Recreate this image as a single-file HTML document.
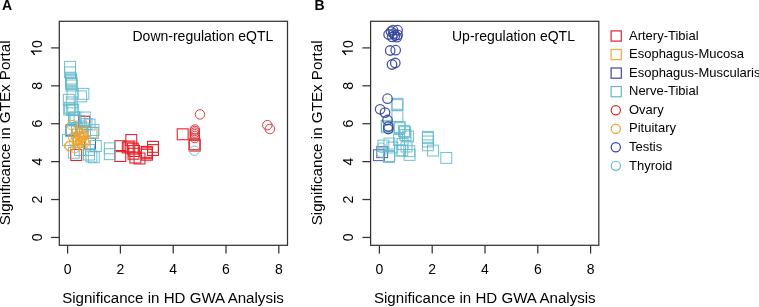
<!DOCTYPE html>
<html><head><meta charset="utf-8"><style>
html,body{margin:0;padding:0;background:#fff;width:759px;height:307px;overflow:hidden}
svg{display:block;filter:blur(0.25px)}
text{font-family:"Liberation Sans", sans-serif;fill:#000}
</style></head><body>
<svg width="759" height="307" viewBox="0 0 759 307">
<rect x="59.3" y="21.3" width="228.20" height="224.00" fill="none" stroke="#333333" stroke-width="1.25"/>
<line x1="51.10" y1="237.45" x2="59.30" y2="237.45" stroke="#333333" stroke-width="1.25"/>
<text x="0" y="0" transform="translate(41.70,237.45) rotate(-90) scale(1,1.09)" text-anchor="middle" font-size="14">0</text>
<line x1="51.10" y1="199.54" x2="59.30" y2="199.54" stroke="#333333" stroke-width="1.25"/>
<text x="0" y="0" transform="translate(41.70,199.54) rotate(-90) scale(1,1.09)" text-anchor="middle" font-size="14">2</text>
<line x1="51.10" y1="161.63" x2="59.30" y2="161.63" stroke="#333333" stroke-width="1.25"/>
<text x="0" y="0" transform="translate(41.70,161.63) rotate(-90) scale(1,1.09)" text-anchor="middle" font-size="14">4</text>
<line x1="51.10" y1="123.72" x2="59.30" y2="123.72" stroke="#333333" stroke-width="1.25"/>
<text x="0" y="0" transform="translate(41.70,123.72) rotate(-90) scale(1,1.09)" text-anchor="middle" font-size="14">6</text>
<line x1="51.10" y1="85.81" x2="59.30" y2="85.81" stroke="#333333" stroke-width="1.25"/>
<text x="0" y="0" transform="translate(41.70,85.81) rotate(-90) scale(1,1.09)" text-anchor="middle" font-size="14">8</text>
<line x1="51.10" y1="47.90" x2="59.30" y2="47.90" stroke="#333333" stroke-width="1.25"/>
<g transform="translate(41.70,47.90) rotate(-90) scale(1,1.09)"><path transform="translate(-8.5,0)" d="M4.55,0 L5.85,0 L5.85,-10.0 L4.95,-10.0 Q3.9,-8.2 1.3,-7.2 L1.3,-5.95 Q3.2,-6.6 4.55,-7.75 Z" fill="#000"/><text x="0" y="0" font-size="14">0</text></g>
<line x1="67.60" y1="245.3" x2="67.60" y2="253.6" stroke="#333333" stroke-width="1.25"/>
<text x="0" y="0" transform="translate(67.60,273.6) scale(1,1.09)" text-anchor="middle" font-size="14">0</text>
<line x1="120.40" y1="245.3" x2="120.40" y2="253.6" stroke="#333333" stroke-width="1.25"/>
<text x="0" y="0" transform="translate(120.40,273.6) scale(1,1.09)" text-anchor="middle" font-size="14">2</text>
<line x1="173.20" y1="245.3" x2="173.20" y2="253.6" stroke="#333333" stroke-width="1.25"/>
<text x="0" y="0" transform="translate(173.20,273.6) scale(1,1.09)" text-anchor="middle" font-size="14">4</text>
<line x1="226.00" y1="245.3" x2="226.00" y2="253.6" stroke="#333333" stroke-width="1.25"/>
<text x="0" y="0" transform="translate(226.00,273.6) scale(1,1.09)" text-anchor="middle" font-size="14">6</text>
<line x1="278.80" y1="245.3" x2="278.80" y2="253.6" stroke="#333333" stroke-width="1.25"/>
<text x="0" y="0" transform="translate(278.80,273.6) scale(1,1.09)" text-anchor="middle" font-size="14">8</text>
<text x="173.00" y="303.4" text-anchor="middle" font-size="15.1">Significance in HD GWA Analysis</text>
<text x="0" y="0" transform="translate(10.20,132.9) rotate(-90)" text-anchor="middle" font-size="15.2">Significance in GTEx Portal</text>
<rect x="370.6" y="21.3" width="228.20" height="224.00" fill="none" stroke="#333333" stroke-width="1.25"/>
<line x1="362.40" y1="237.45" x2="370.60" y2="237.45" stroke="#333333" stroke-width="1.25"/>
<text x="0" y="0" transform="translate(352.90,237.45) rotate(-90) scale(1,1.09)" text-anchor="middle" font-size="14">0</text>
<line x1="362.40" y1="199.54" x2="370.60" y2="199.54" stroke="#333333" stroke-width="1.25"/>
<text x="0" y="0" transform="translate(352.90,199.54) rotate(-90) scale(1,1.09)" text-anchor="middle" font-size="14">2</text>
<line x1="362.40" y1="161.63" x2="370.60" y2="161.63" stroke="#333333" stroke-width="1.25"/>
<text x="0" y="0" transform="translate(352.90,161.63) rotate(-90) scale(1,1.09)" text-anchor="middle" font-size="14">4</text>
<line x1="362.40" y1="123.72" x2="370.60" y2="123.72" stroke="#333333" stroke-width="1.25"/>
<text x="0" y="0" transform="translate(352.90,123.72) rotate(-90) scale(1,1.09)" text-anchor="middle" font-size="14">6</text>
<line x1="362.40" y1="85.81" x2="370.60" y2="85.81" stroke="#333333" stroke-width="1.25"/>
<text x="0" y="0" transform="translate(352.90,85.81) rotate(-90) scale(1,1.09)" text-anchor="middle" font-size="14">8</text>
<line x1="362.40" y1="47.90" x2="370.60" y2="47.90" stroke="#333333" stroke-width="1.25"/>
<g transform="translate(352.90,47.90) rotate(-90) scale(1,1.09)"><path transform="translate(-8.5,0)" d="M4.55,0 L5.85,0 L5.85,-10.0 L4.95,-10.0 Q3.9,-8.2 1.3,-7.2 L1.3,-5.95 Q3.2,-6.6 4.55,-7.75 Z" fill="#000"/><text x="0" y="0" font-size="14">0</text></g>
<line x1="379.40" y1="245.3" x2="379.40" y2="253.6" stroke="#333333" stroke-width="1.25"/>
<text x="0" y="0" transform="translate(379.40,273.6) scale(1,1.09)" text-anchor="middle" font-size="14">0</text>
<line x1="432.20" y1="245.3" x2="432.20" y2="253.6" stroke="#333333" stroke-width="1.25"/>
<text x="0" y="0" transform="translate(432.20,273.6) scale(1,1.09)" text-anchor="middle" font-size="14">2</text>
<line x1="485.00" y1="245.3" x2="485.00" y2="253.6" stroke="#333333" stroke-width="1.25"/>
<text x="0" y="0" transform="translate(485.00,273.6) scale(1,1.09)" text-anchor="middle" font-size="14">4</text>
<line x1="537.80" y1="245.3" x2="537.80" y2="253.6" stroke="#333333" stroke-width="1.25"/>
<text x="0" y="0" transform="translate(537.80,273.6) scale(1,1.09)" text-anchor="middle" font-size="14">6</text>
<line x1="590.60" y1="245.3" x2="590.60" y2="253.6" stroke="#333333" stroke-width="1.25"/>
<text x="0" y="0" transform="translate(590.60,273.6) scale(1,1.09)" text-anchor="middle" font-size="14">8</text>
<text x="484.80" y="303.4" text-anchor="middle" font-size="15.1">Significance in HD GWA Analysis</text>
<text x="0" y="0" transform="translate(322.00,132.9) rotate(-90)" text-anchor="middle" font-size="15.2">Significance in GTEx Portal</text>
<text x="1.9" y="10.4" font-size="14" font-weight="bold">A</text>
<text x="314.5" y="10.4" font-size="14" font-weight="bold">B</text>
<text x="132.5" y="40.7" font-size="14">Down-regulation eQTL</text>
<text x="452" y="40.7" font-size="14">Up-regulation eQTL</text>
<rect x="611.10" y="30.90" width="10.2" height="10.2" fill="none" stroke="#e3222a" stroke-width="1.2"/>
<text x="629" y="39.70" font-size="13">Artery-Tibial</text>
<rect x="611.10" y="49.45" width="10.2" height="10.2" fill="none" stroke="#f0a844" stroke-width="1.2"/>
<text x="629" y="58.25" font-size="13">Esophagus-Mucosa</text>
<rect x="611.10" y="68.00" width="10.2" height="10.2" fill="none" stroke="#3c4a9a" stroke-width="1.2"/>
<text x="629" y="76.80" font-size="13">Esophagus-Muscularis</text>
<rect x="611.10" y="86.55" width="10.2" height="10.2" fill="none" stroke="#62b9ca" stroke-width="1.2"/>
<text x="629" y="95.35" font-size="13">Nerve-Tibial</text>
<circle cx="615.80" cy="110.20" r="4.6" fill="none" stroke="#d42a32" stroke-width="1.2"/>
<text x="629" y="113.90" font-size="13">Ovary</text>
<circle cx="615.80" cy="128.75" r="4.6" fill="none" stroke="#eca32c" stroke-width="1.2"/>
<text x="629" y="132.45" font-size="13">Pituitary</text>
<circle cx="615.80" cy="147.30" r="4.6" fill="none" stroke="#34449a" stroke-width="1.2"/>
<text x="629" y="151.00" font-size="13">Testis</text>
<circle cx="615.80" cy="165.85" r="4.6" fill="none" stroke="#62b9ca" stroke-width="1.2"/>
<text x="629" y="169.55" font-size="13">Thyroid</text>
<rect x="78.75" y="116.25" width="10.9" height="10.9" fill="none" stroke="#e3222a" stroke-width="1.1" stroke-opacity="1"/>
<rect x="70.75" y="149.55" width="10.9" height="10.9" fill="none" stroke="#e3222a" stroke-width="1.1" stroke-opacity="1"/>
<rect x="114.85" y="140.75" width="10.9" height="10.9" fill="none" stroke="#e3222a" stroke-width="1.1" stroke-opacity="1"/>
<rect x="114.85" y="150.55" width="10.9" height="10.9" fill="none" stroke="#e3222a" stroke-width="1.1" stroke-opacity="1"/>
<rect x="125.85" y="134.55" width="10.9" height="10.9" fill="none" stroke="#e3222a" stroke-width="1.1" stroke-opacity="1"/>
<rect x="123.90" y="141.00" width="10.9" height="10.9" fill="none" stroke="#e3222a" stroke-width="1.1" stroke-opacity="1"/>
<rect x="127.40" y="143.20" width="10.9" height="10.9" fill="none" stroke="#e3222a" stroke-width="1.1" stroke-opacity="1"/>
<rect x="128.80" y="145.55" width="10.9" height="10.9" fill="none" stroke="#e3222a" stroke-width="1.1" stroke-opacity="1"/>
<rect x="128.05" y="148.30" width="10.9" height="10.9" fill="none" stroke="#e3222a" stroke-width="1.1" stroke-opacity="1"/>
<rect x="129.95" y="152.10" width="10.9" height="10.9" fill="none" stroke="#e3222a" stroke-width="1.1" stroke-opacity="1"/>
<rect x="147.55" y="141.40" width="10.9" height="10.9" fill="none" stroke="#e3222a" stroke-width="1.1" stroke-opacity="1"/>
<rect x="147.55" y="144.60" width="10.9" height="10.9" fill="none" stroke="#e3222a" stroke-width="1.1" stroke-opacity="1"/>
<rect x="141.45" y="146.40" width="10.9" height="10.9" fill="none" stroke="#e3222a" stroke-width="1.1" stroke-opacity="1"/>
<rect x="141.45" y="147.80" width="10.9" height="10.9" fill="none" stroke="#e3222a" stroke-width="1.1" stroke-opacity="1"/>
<rect x="141.45" y="149.30" width="10.9" height="10.9" fill="none" stroke="#e3222a" stroke-width="1.1" stroke-opacity="1"/>
<rect x="134.05" y="153.05" width="10.9" height="10.9" fill="none" stroke="#e3222a" stroke-width="1.1" stroke-opacity="1"/>
<rect x="122.35" y="142.05" width="10.9" height="10.9" fill="none" stroke="#e3222a" stroke-width="1.1" stroke-opacity="1"/>
<rect x="177.25" y="128.85" width="10.9" height="10.9" fill="none" stroke="#e3222a" stroke-width="1.1" stroke-opacity="1"/>
<rect x="189.15" y="138.85" width="10.9" height="10.9" fill="none" stroke="#e3222a" stroke-width="1.1" stroke-opacity="1"/>
<rect x="189.15" y="140.15" width="10.9" height="10.9" fill="none" stroke="#e3222a" stroke-width="1.1" stroke-opacity="1"/>
<rect x="84.55" y="138.25" width="10.9" height="10.9" fill="none" stroke="#3c4a9a" stroke-width="1.0" stroke-opacity="0.9"/>
<rect x="66.05" y="124.85" width="10.9" height="10.9" fill="none" stroke="#3c4a9a" stroke-width="1.0" stroke-opacity="0.9"/>
<rect x="85.95" y="127.05" width="10.9" height="10.9" fill="none" stroke="#f0a844" stroke-width="1.0" stroke-opacity="0.9"/>
<rect x="64.60" y="61.35" width="10.9" height="10.9" fill="none" stroke="#62b9ca" stroke-width="1.0" stroke-opacity="0.9"/>
<rect x="64.60" y="66.95" width="10.9" height="10.9" fill="none" stroke="#62b9ca" stroke-width="1.0" stroke-opacity="0.9"/>
<rect x="65.55" y="73.15" width="10.9" height="10.9" fill="none" stroke="#62b9ca" stroke-width="1.0" stroke-opacity="0.9"/>
<rect x="65.55" y="74.35" width="10.9" height="10.9" fill="none" stroke="#62b9ca" stroke-width="1.0" stroke-opacity="0.9"/>
<rect x="65.85" y="75.75" width="10.9" height="10.9" fill="none" stroke="#62b9ca" stroke-width="1.0" stroke-opacity="0.9"/>
<rect x="65.85" y="77.15" width="10.9" height="10.9" fill="none" stroke="#62b9ca" stroke-width="1.0" stroke-opacity="0.9"/>
<rect x="66.05" y="78.55" width="10.9" height="10.9" fill="none" stroke="#62b9ca" stroke-width="1.0" stroke-opacity="0.9"/>
<rect x="66.05" y="80.05" width="10.9" height="10.9" fill="none" stroke="#62b9ca" stroke-width="1.0" stroke-opacity="0.9"/>
<rect x="67.05" y="88.15" width="10.9" height="10.9" fill="none" stroke="#62b9ca" stroke-width="1.0" stroke-opacity="0.9"/>
<rect x="63.35" y="94.35" width="10.9" height="10.9" fill="none" stroke="#62b9ca" stroke-width="1.0" stroke-opacity="0.9"/>
<rect x="66.35" y="96.95" width="10.9" height="10.9" fill="none" stroke="#62b9ca" stroke-width="1.0" stroke-opacity="0.9"/>
<rect x="64.35" y="102.35" width="10.9" height="10.9" fill="none" stroke="#62b9ca" stroke-width="1.0" stroke-opacity="0.9"/>
<rect x="67.75" y="104.05" width="10.9" height="10.9" fill="none" stroke="#62b9ca" stroke-width="1.0" stroke-opacity="0.9"/>
<rect x="77.95" y="88.35" width="10.9" height="10.9" fill="none" stroke="#62b9ca" stroke-width="1.0" stroke-opacity="0.9"/>
<rect x="75.75" y="90.95" width="10.9" height="10.9" fill="none" stroke="#62b9ca" stroke-width="1.0" stroke-opacity="0.9"/>
<rect x="63.75" y="104.15" width="10.9" height="10.9" fill="none" stroke="#62b9ca" stroke-width="1.0" stroke-opacity="0.9"/>
<rect x="66.35" y="104.35" width="10.9" height="10.9" fill="none" stroke="#62b9ca" stroke-width="1.0" stroke-opacity="0.9"/>
<rect x="68.45" y="112.15" width="10.9" height="10.9" fill="none" stroke="#62b9ca" stroke-width="1.0" stroke-opacity="0.9"/>
<rect x="69.05" y="115.05" width="10.9" height="10.9" fill="none" stroke="#62b9ca" stroke-width="1.0" stroke-opacity="0.9"/>
<rect x="79.35" y="112.05" width="10.9" height="10.9" fill="none" stroke="#62b9ca" stroke-width="1.0" stroke-opacity="0.9"/>
<rect x="84.15" y="119.05" width="10.9" height="10.9" fill="none" stroke="#62b9ca" stroke-width="1.0" stroke-opacity="0.9"/>
<rect x="87.35" y="127.55" width="10.9" height="10.9" fill="none" stroke="#62b9ca" stroke-width="1.0" stroke-opacity="0.9"/>
<rect x="88.05" y="124.55" width="10.9" height="10.9" fill="none" stroke="#62b9ca" stroke-width="1.0" stroke-opacity="0.9"/>
<rect x="90.35" y="140.55" width="10.9" height="10.9" fill="none" stroke="#62b9ca" stroke-width="1.0" stroke-opacity="0.9"/>
<rect x="68.35" y="147.25" width="10.9" height="10.9" fill="none" stroke="#62b9ca" stroke-width="1.0" stroke-opacity="0.9"/>
<rect x="62.55" y="134.55" width="10.9" height="10.9" fill="none" stroke="#62b9ca" stroke-width="1.0" stroke-opacity="0.9"/>
<rect x="65.55" y="125.55" width="10.9" height="10.9" fill="none" stroke="#62b9ca" stroke-width="1.0" stroke-opacity="0.9"/>
<rect x="83.45" y="149.15" width="10.9" height="10.9" fill="none" stroke="#62b9ca" stroke-width="1.0" stroke-opacity="0.9"/>
<rect x="85.95" y="151.05" width="10.9" height="10.9" fill="none" stroke="#62b9ca" stroke-width="1.0" stroke-opacity="0.9"/>
<rect x="88.35" y="151.85" width="10.9" height="10.9" fill="none" stroke="#62b9ca" stroke-width="1.0" stroke-opacity="0.9"/>
<rect x="83.55" y="144.55" width="10.9" height="10.9" fill="none" stroke="#62b9ca" stroke-width="1.0" stroke-opacity="0.9"/>
<rect x="104.35" y="142.85" width="10.9" height="10.9" fill="none" stroke="#62b9ca" stroke-width="1.0" stroke-opacity="0.9"/>
<rect x="104.35" y="148.75" width="10.9" height="10.9" fill="none" stroke="#62b9ca" stroke-width="1.0" stroke-opacity="0.9"/>
<rect x="71.55" y="122.55" width="10.9" height="10.9" fill="none" stroke="#62b9ca" stroke-width="1.0" stroke-opacity="0.9"/>
<rect x="79.55" y="125.55" width="10.9" height="10.9" fill="none" stroke="#62b9ca" stroke-width="1.0" stroke-opacity="0.9"/>
<rect x="74.55" y="144.55" width="10.9" height="10.9" fill="none" stroke="#62b9ca" stroke-width="1.0" stroke-opacity="0.9"/>
<rect x="70.05" y="112.05" width="10.9" height="10.9" fill="none" stroke="#62b9ca" stroke-width="1.0" stroke-opacity="0.9"/>
<rect x="74.05" y="115.55" width="10.9" height="10.9" fill="none" stroke="#62b9ca" stroke-width="1.0" stroke-opacity="0.9"/>
<rect x="81.05" y="118.55" width="10.9" height="10.9" fill="none" stroke="#62b9ca" stroke-width="1.0" stroke-opacity="0.9"/>
<rect x="75.55" y="121.05" width="10.9" height="10.9" fill="none" stroke="#62b9ca" stroke-width="1.0" stroke-opacity="0.9"/>
<circle cx="72.00" cy="125.20" r="4.75" fill="none" stroke="#eca32c" stroke-width="1.0" stroke-opacity="0.9"/>
<circle cx="77.00" cy="131.00" r="4.75" fill="none" stroke="#eca32c" stroke-width="1.0" stroke-opacity="0.9"/>
<circle cx="79.00" cy="134.00" r="4.75" fill="none" stroke="#eca32c" stroke-width="1.0" stroke-opacity="0.9"/>
<circle cx="83.00" cy="137.00" r="4.75" fill="none" stroke="#eca32c" stroke-width="1.0" stroke-opacity="0.9"/>
<circle cx="77.00" cy="139.50" r="4.75" fill="none" stroke="#eca32c" stroke-width="1.0" stroke-opacity="0.9"/>
<circle cx="81.00" cy="141.50" r="4.75" fill="none" stroke="#eca32c" stroke-width="1.0" stroke-opacity="0.9"/>
<circle cx="85.00" cy="143.00" r="4.75" fill="none" stroke="#eca32c" stroke-width="1.0" stroke-opacity="0.9"/>
<circle cx="73.00" cy="137.00" r="4.75" fill="none" stroke="#eca32c" stroke-width="1.0" stroke-opacity="0.9"/>
<circle cx="84.00" cy="132.00" r="4.75" fill="none" stroke="#eca32c" stroke-width="1.0" stroke-opacity="0.9"/>
<circle cx="69.00" cy="146.00" r="4.75" fill="none" stroke="#eca32c" stroke-width="1.0" stroke-opacity="0.9"/>
<circle cx="80.50" cy="133.00" r="4.75" fill="none" stroke="#eca32c" stroke-width="1.0" stroke-opacity="0.9"/>
<circle cx="83.50" cy="135.50" r="4.75" fill="none" stroke="#eca32c" stroke-width="1.0" stroke-opacity="0.9"/>
<circle cx="76.00" cy="137.00" r="4.75" fill="none" stroke="#eca32c" stroke-width="1.0" stroke-opacity="0.9"/>
<circle cx="80.00" cy="139.00" r="4.75" fill="none" stroke="#eca32c" stroke-width="1.0" stroke-opacity="0.9"/>
<circle cx="84.00" cy="141.00" r="4.75" fill="none" stroke="#eca32c" stroke-width="1.0" stroke-opacity="0.9"/>
<circle cx="74.00" cy="142.00" r="4.75" fill="none" stroke="#eca32c" stroke-width="1.0" stroke-opacity="0.9"/>
<circle cx="78.00" cy="144.50" r="4.75" fill="none" stroke="#eca32c" stroke-width="1.0" stroke-opacity="0.9"/>
<circle cx="82.50" cy="145.50" r="4.75" fill="none" stroke="#eca32c" stroke-width="1.0" stroke-opacity="0.9"/>
<circle cx="70.00" cy="146.00" r="4.75" fill="none" stroke="#eca32c" stroke-width="1.0" stroke-opacity="0.9"/>
<circle cx="75.00" cy="148.00" r="4.75" fill="none" stroke="#eca32c" stroke-width="1.0" stroke-opacity="0.9"/>
<circle cx="79.00" cy="136.00" r="4.75" fill="none" stroke="#eca32c" stroke-width="1.0" stroke-opacity="0.9"/>
<circle cx="82.00" cy="138.00" r="4.75" fill="none" stroke="#eca32c" stroke-width="1.0" stroke-opacity="0.9"/>
<circle cx="77.00" cy="141.00" r="4.75" fill="none" stroke="#eca32c" stroke-width="1.0" stroke-opacity="0.9"/>
<circle cx="80.50" cy="143.00" r="4.75" fill="none" stroke="#eca32c" stroke-width="1.0" stroke-opacity="0.9"/>
<circle cx="200.00" cy="114.40" r="4.75" fill="none" stroke="#d42a32" stroke-width="1.0" stroke-opacity="0.9"/>
<circle cx="194.80" cy="129.50" r="4.75" fill="none" stroke="#d42a32" stroke-width="1.0" stroke-opacity="0.9"/>
<circle cx="194.80" cy="131.00" r="4.75" fill="none" stroke="#d42a32" stroke-width="1.0" stroke-opacity="0.9"/>
<circle cx="194.80" cy="132.60" r="4.75" fill="none" stroke="#d42a32" stroke-width="1.0" stroke-opacity="0.9"/>
<circle cx="194.80" cy="134.20" r="4.75" fill="none" stroke="#d42a32" stroke-width="1.0" stroke-opacity="0.9"/>
<circle cx="194.80" cy="136.00" r="4.75" fill="none" stroke="#d42a32" stroke-width="1.0" stroke-opacity="0.9"/>
<circle cx="194.80" cy="138.00" r="4.75" fill="none" stroke="#d42a32" stroke-width="1.0" stroke-opacity="0.9"/>
<circle cx="267.30" cy="125.20" r="4.75" fill="none" stroke="#d42a32" stroke-width="1.0" stroke-opacity="0.9"/>
<circle cx="269.90" cy="129.00" r="4.75" fill="none" stroke="#d42a32" stroke-width="1.0" stroke-opacity="0.9"/>
<circle cx="194.40" cy="150.70" r="4.75" fill="none" stroke="#62b9ca" stroke-width="1.0" stroke-opacity="0.9"/>
<rect x="373.45" y="149.75" width="10.9" height="10.9" fill="none" stroke="#3c4a9a" stroke-width="1.0" stroke-opacity="0.9"/>
<rect x="376.75" y="146.75" width="10.9" height="10.9" fill="none" stroke="#3c4a9a" stroke-width="1.0" stroke-opacity="0.9"/>
<rect x="391.95" y="98.35" width="10.9" height="10.9" fill="none" stroke="#62b9ca" stroke-width="1.0" stroke-opacity="0.9"/>
<rect x="391.95" y="99.65" width="10.9" height="10.9" fill="none" stroke="#62b9ca" stroke-width="1.0" stroke-opacity="0.9"/>
<rect x="391.95" y="110.75" width="10.9" height="10.9" fill="none" stroke="#62b9ca" stroke-width="1.0" stroke-opacity="0.9"/>
<rect x="381.25" y="120.35" width="10.9" height="10.9" fill="none" stroke="#62b9ca" stroke-width="1.0" stroke-opacity="0.9"/>
<rect x="394.25" y="121.55" width="10.9" height="10.9" fill="none" stroke="#62b9ca" stroke-width="1.0" stroke-opacity="0.9"/>
<rect x="398.55" y="125.55" width="10.9" height="10.9" fill="none" stroke="#62b9ca" stroke-width="1.0" stroke-opacity="0.9"/>
<rect x="400.05" y="129.55" width="10.9" height="10.9" fill="none" stroke="#62b9ca" stroke-width="1.0" stroke-opacity="0.9"/>
<rect x="381.55" y="121.85" width="10.9" height="10.9" fill="none" stroke="#62b9ca" stroke-width="1.0" stroke-opacity="0.9"/>
<rect x="393.95" y="122.75" width="10.9" height="10.9" fill="none" stroke="#62b9ca" stroke-width="1.0" stroke-opacity="0.9"/>
<rect x="399.55" y="126.75" width="10.9" height="10.9" fill="none" stroke="#62b9ca" stroke-width="1.0" stroke-opacity="0.9"/>
<rect x="402.55" y="131.05" width="10.9" height="10.9" fill="none" stroke="#62b9ca" stroke-width="1.0" stroke-opacity="0.9"/>
<rect x="401.05" y="141.05" width="10.9" height="10.9" fill="none" stroke="#62b9ca" stroke-width="1.0" stroke-opacity="0.9"/>
<rect x="397.05" y="138.55" width="10.9" height="10.9" fill="none" stroke="#62b9ca" stroke-width="1.0" stroke-opacity="0.9"/>
<rect x="394.55" y="145.05" width="10.9" height="10.9" fill="none" stroke="#62b9ca" stroke-width="1.0" stroke-opacity="0.9"/>
<rect x="403.85" y="145.75" width="10.9" height="10.9" fill="none" stroke="#62b9ca" stroke-width="1.0" stroke-opacity="0.9"/>
<rect x="377.95" y="140.15" width="10.9" height="10.9" fill="none" stroke="#62b9ca" stroke-width="1.0" stroke-opacity="0.9"/>
<rect x="383.95" y="138.05" width="10.9" height="10.9" fill="none" stroke="#62b9ca" stroke-width="1.0" stroke-opacity="0.9"/>
<rect x="386.95" y="142.05" width="10.9" height="10.9" fill="none" stroke="#62b9ca" stroke-width="1.0" stroke-opacity="0.9"/>
<rect x="383.85" y="150.55" width="10.9" height="10.9" fill="none" stroke="#62b9ca" stroke-width="1.0" stroke-opacity="0.9"/>
<rect x="383.55" y="151.55" width="10.9" height="10.9" fill="none" stroke="#62b9ca" stroke-width="1.0" stroke-opacity="0.9"/>
<rect x="396.85" y="145.05" width="10.9" height="10.9" fill="none" stroke="#62b9ca" stroke-width="1.0" stroke-opacity="0.9"/>
<rect x="404.15" y="149.45" width="10.9" height="10.9" fill="none" stroke="#62b9ca" stroke-width="1.0" stroke-opacity="0.9"/>
<rect x="422.45" y="131.35" width="10.9" height="10.9" fill="none" stroke="#62b9ca" stroke-width="1.0" stroke-opacity="0.9"/>
<rect x="422.45" y="132.45" width="10.9" height="10.9" fill="none" stroke="#62b9ca" stroke-width="1.0" stroke-opacity="0.9"/>
<rect x="422.45" y="136.05" width="10.9" height="10.9" fill="none" stroke="#62b9ca" stroke-width="1.0" stroke-opacity="0.9"/>
<rect x="422.45" y="139.85" width="10.9" height="10.9" fill="none" stroke="#62b9ca" stroke-width="1.0" stroke-opacity="0.9"/>
<rect x="427.55" y="145.15" width="10.9" height="10.9" fill="none" stroke="#62b9ca" stroke-width="1.0" stroke-opacity="0.9"/>
<rect x="440.85" y="152.45" width="10.9" height="10.9" fill="none" stroke="#62b9ca" stroke-width="1.0" stroke-opacity="0.9"/>
<rect x="393.55" y="134.55" width="10.9" height="10.9" fill="none" stroke="#62b9ca" stroke-width="1.0" stroke-opacity="0.9"/>
<circle cx="393.00" cy="30.20" r="4.75" fill="none" stroke="#34449a" stroke-width="1.3" stroke-opacity="0.9"/>
<circle cx="397.60" cy="30.20" r="4.75" fill="none" stroke="#34449a" stroke-width="1.3" stroke-opacity="0.9"/>
<circle cx="388.60" cy="34.50" r="4.75" fill="none" stroke="#34449a" stroke-width="1.3" stroke-opacity="0.9"/>
<circle cx="393.70" cy="33.70" r="4.75" fill="none" stroke="#34449a" stroke-width="1.3" stroke-opacity="0.9"/>
<circle cx="397.60" cy="34.90" r="4.75" fill="none" stroke="#34449a" stroke-width="1.3" stroke-opacity="0.9"/>
<circle cx="392.20" cy="36.90" r="4.75" fill="none" stroke="#34449a" stroke-width="1.3" stroke-opacity="0.9"/>
<circle cx="396.90" cy="37.20" r="4.75" fill="none" stroke="#34449a" stroke-width="1.3" stroke-opacity="0.9"/>
<circle cx="391.00" cy="31.50" r="4.75" fill="none" stroke="#34449a" stroke-width="1.3" stroke-opacity="0.9"/>
<circle cx="395.00" cy="35.50" r="4.75" fill="none" stroke="#34449a" stroke-width="1.3" stroke-opacity="0.9"/>
<circle cx="390.20" cy="50.50" r="4.75" fill="none" stroke="#34449a" stroke-width="1.3" stroke-opacity="0.9"/>
<circle cx="395.70" cy="50.20" r="4.75" fill="none" stroke="#34449a" stroke-width="1.3" stroke-opacity="0.9"/>
<circle cx="392.00" cy="64.50" r="4.75" fill="none" stroke="#34449a" stroke-width="1.3" stroke-opacity="0.9"/>
<circle cx="395.30" cy="63.00" r="4.75" fill="none" stroke="#34449a" stroke-width="1.3" stroke-opacity="0.9"/>
<circle cx="387.50" cy="98.70" r="4.75" fill="none" stroke="#34449a" stroke-width="1.3" stroke-opacity="0.9"/>
<circle cx="380.10" cy="109.30" r="4.75" fill="none" stroke="#34449a" stroke-width="1.3" stroke-opacity="0.9"/>
<circle cx="385.00" cy="112.60" r="4.75" fill="none" stroke="#34449a" stroke-width="1.3" stroke-opacity="0.9"/>
<circle cx="387.50" cy="120.00" r="4.75" fill="none" stroke="#34449a" stroke-width="1.3" stroke-opacity="0.9"/>
<circle cx="388.30" cy="126.50" r="4.75" fill="none" stroke="#34449a" stroke-width="1.3" stroke-opacity="0.9"/>
<circle cx="388.30" cy="129.00" r="4.75" fill="none" stroke="#34449a" stroke-width="1.3" stroke-opacity="0.9"/>
<circle cx="381.30" cy="147.70" r="4.75" fill="none" stroke="#62b9ca" stroke-width="1.0" stroke-opacity="0.9"/>
<circle cx="381.30" cy="152.60" r="4.75" fill="none" stroke="#62b9ca" stroke-width="1.0" stroke-opacity="0.9"/>
</svg>
</body></html>
